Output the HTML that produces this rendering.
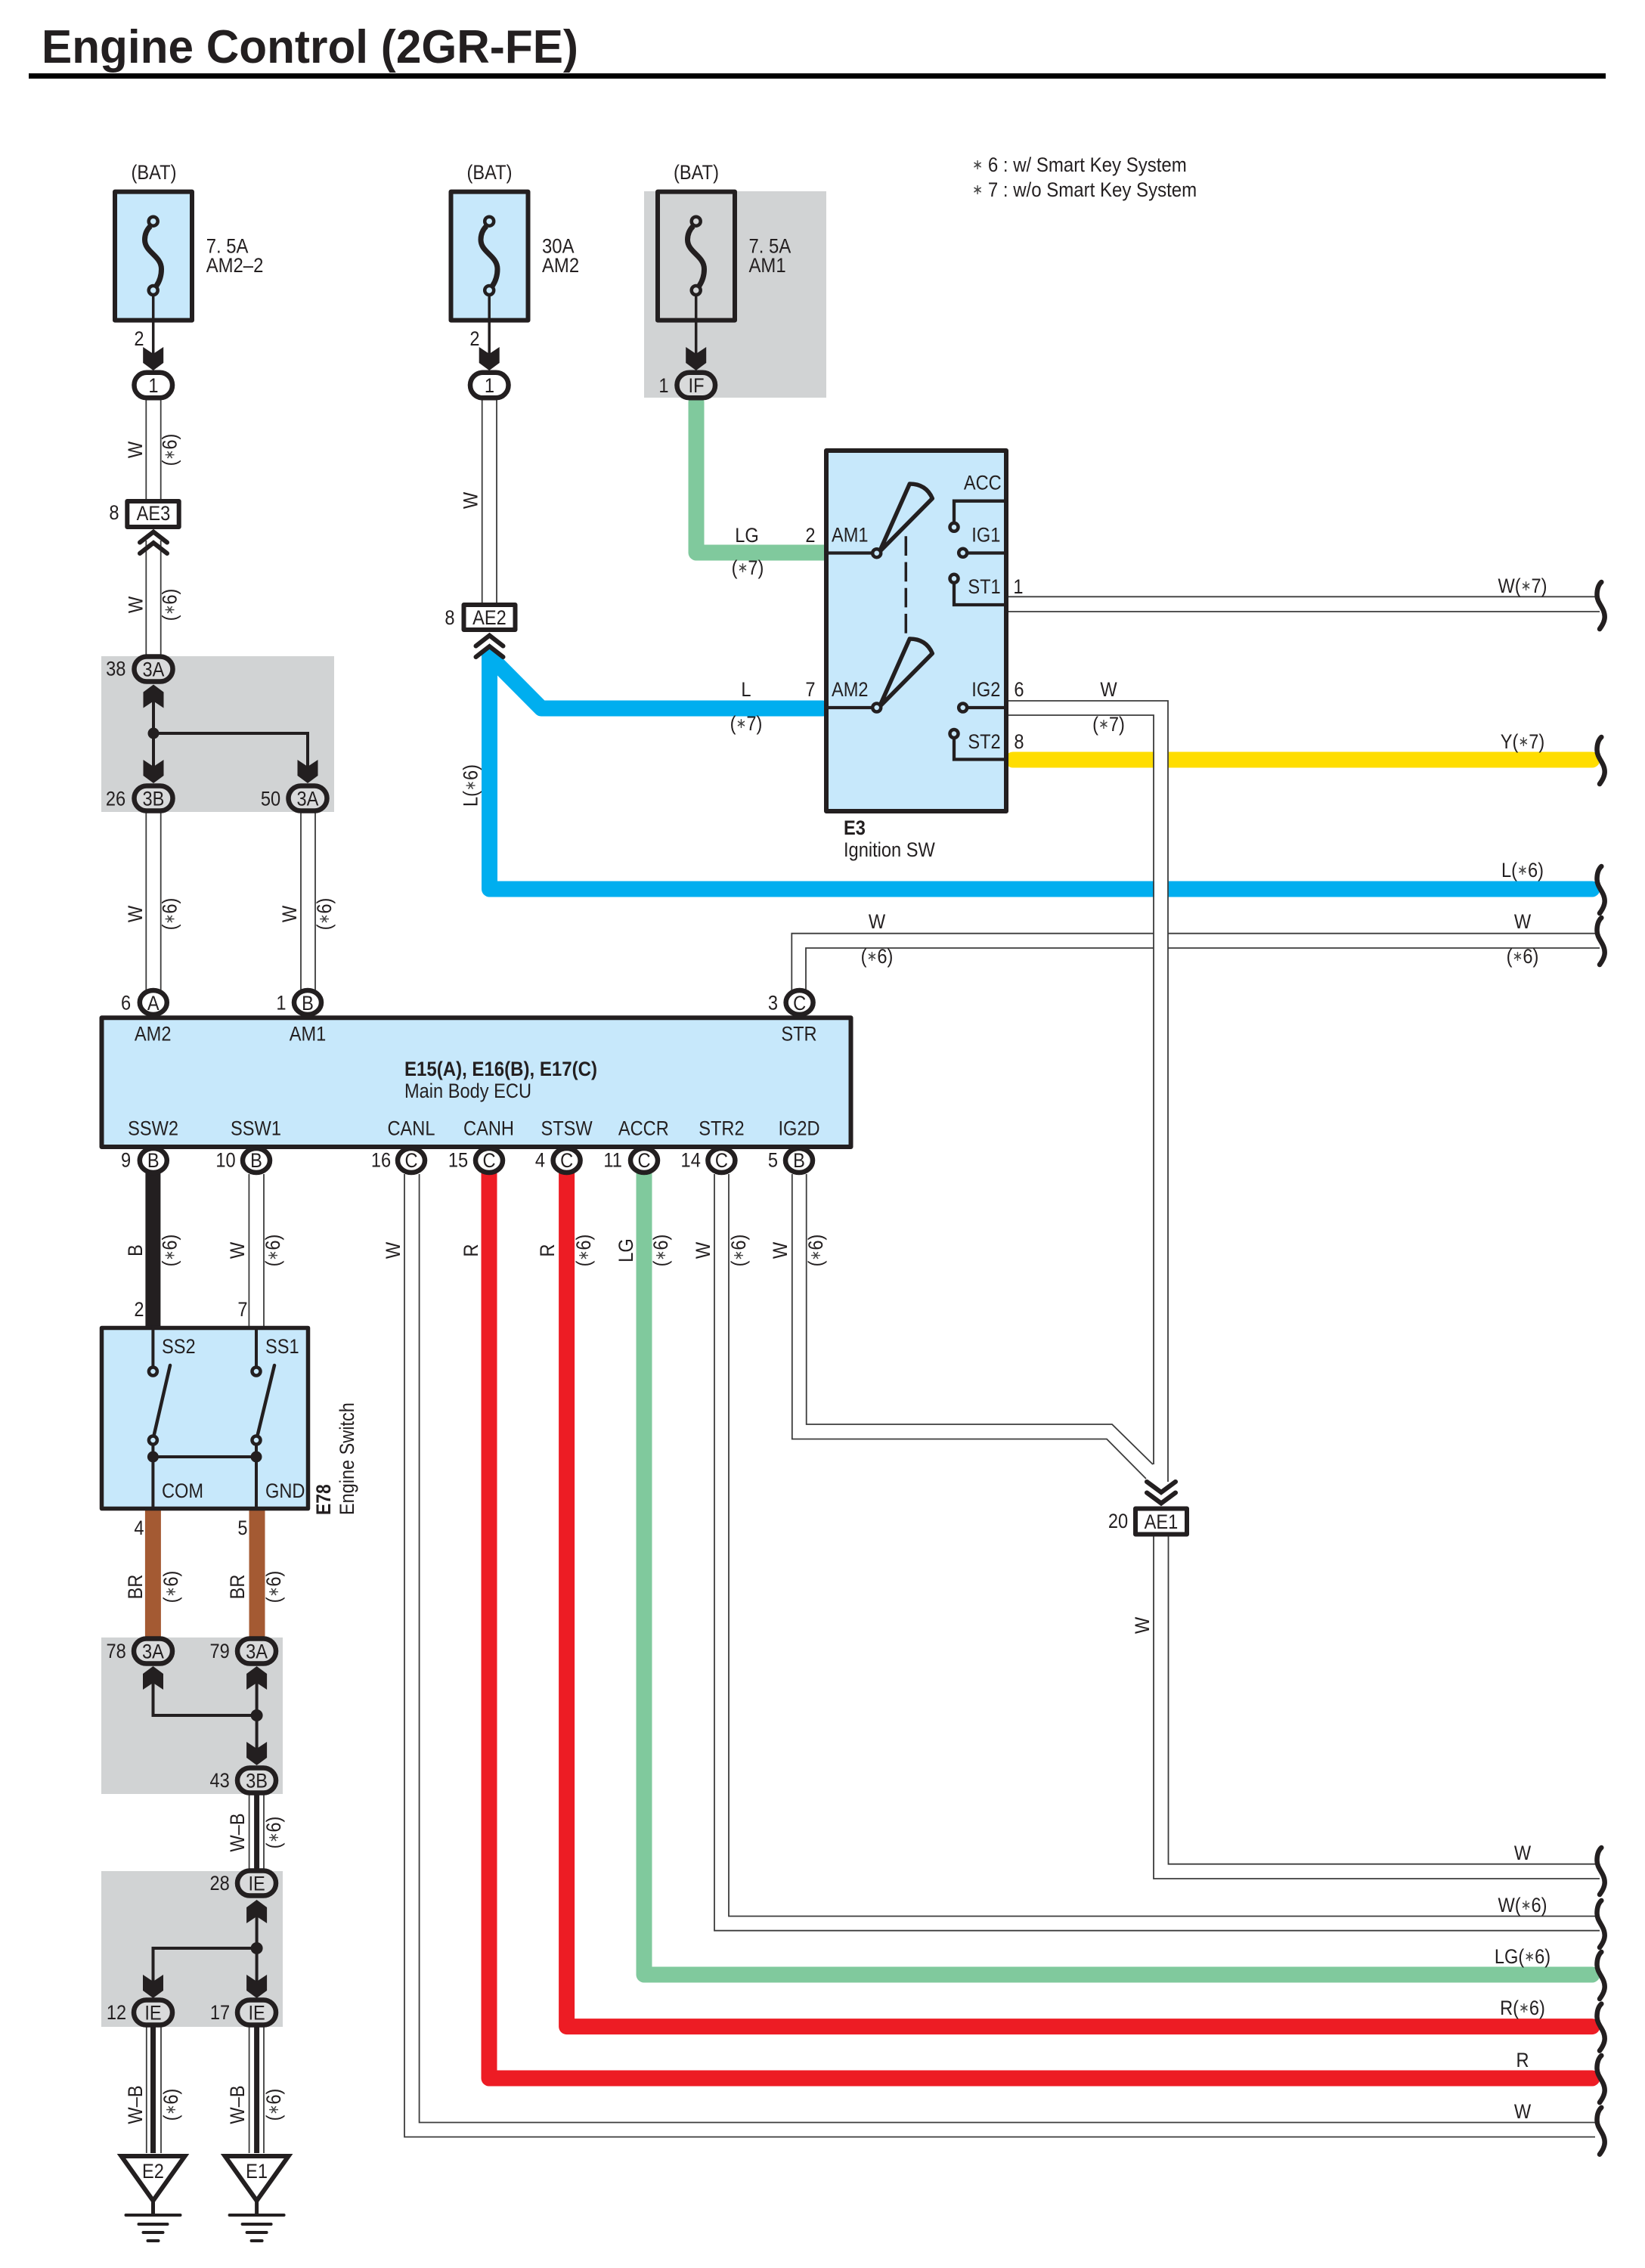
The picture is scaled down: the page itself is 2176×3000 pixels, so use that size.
<!DOCTYPE html>
<html><head><meta charset="utf-8"><title>Engine Control (2GR-FE)</title>
<style>
html,body{margin:0;padding:0;background:#fff}
svg{display:block}
text{font-family:"Liberation Sans",Arial,sans-serif;font-size:27px;fill:#231f20;text-anchor:middle}
.l{text-anchor:start}
.b{font-weight:bold}
.a{font-size:19px;fill:#444;baseline-shift:3px}
.w{fill:none;stroke:#3c3c3c;stroke-width:1.8}
.k{fill:none;stroke:#231f20;stroke-width:4}
.box{fill:#c7e8fb;stroke:#231f20;stroke-width:6;stroke-linejoin:round}
.ov{fill:#fff;stroke:#231f20;stroke-width:6.5}
.og{fill:#d9dadb;stroke:#231f20;stroke-width:6.5}
.rc{fill:#fff;stroke:#231f20;stroke-width:6;stroke-linejoin:round}
.sc{fill:#c7e8fb;stroke:#231f20;stroke-width:4.5}
.fat{fill:none;stroke-width:21;stroke-linejoin:round;stroke-linecap:round}
</style></head><body>
<svg xmlns="http://www.w3.org/2000/svg" width="2176" height="3000" viewBox="0 0 2176 3000">
<defs>
<path id="arr" d="M-13.500 -31L0 -22L13.500 -31V-10L0 0L-13.500 -10Z" fill="#231f20"/>
<g id="chev" fill="none" stroke="#231f20" stroke-width="6" stroke-linecap="round"><path d="M-18 17.500L0 3.500L18 17.500"/><path d="M-18 32L0 18L18 32"/></g>
<path id="brk" d="M1.300 -30C-3 -26 -4.500 -20 -4.500 -13C-4.500 -2 5.700 4 5.700 16C5.700 22 2 28 -1 32" fill="none" stroke="#231f20" stroke-width="6.500" stroke-linecap="round"/>
<path id="fz" d="M199 299C194 304 191.500 310 191.500 317C191.500 334 213.500 338 213.500 356C213.500 365 211 372 207 378" fill="none" stroke="#231f20" stroke-width="7"/>
<g id="gnd" stroke="#231f20" stroke-width="4" fill="none"><path d="M0 61V80" stroke-width="5"/><path d="M-36 80H36M-19 92H19M-13 103H13M-7 114H7" stroke-linecap="round"/><path d="M-42 2H42L0 61Z" stroke-width="6" stroke-linejoin="miter" fill="#fff"/></g>
</defs>
<rect width="2176" height="3000" fill="#fff"/>

<!-- title -->
<text class="l b" x="55" y="83" style="font-size:62px" textLength="710" lengthAdjust="spacingAndGlyphs">Engine Control (2GR-FE)</text>
<rect x="38" y="97" width="2086" height="7" fill="#000"/>

<!-- gray areas -->
<g fill="#d1d3d4">
<rect x="852" y="253" width="241" height="273"/>
<rect x="134" y="868" width="308" height="206"/>
<rect x="134" y="2166" width="240" height="207"/>
<rect x="134" y="2475" width="240" height="206"/>
</g>

<!-- thin white wires -->
<g class="w">
<path d="M193.300 529V661M212.700 529V661M193.300 715V868M212.700 715V868"/>
<path d="M193.300 1075V1312M212.700 1075V1312M398 1075V1312M417 1075V1312"/>
<path d="M637.700 529V800M657 529V800"/>
<path d="M1334 789.300H2110M1334 809H2116"/>
<path d="M1047.300 1312V1234.700H1526M1545 1234.700H2110M1066 1312V1254H1526M1545 1254H2116"/>
<path d="M329.400 1553V1754M349 1553V1754"/>
<path d="M535 1553V2826.600H2110M554.600 1553V2807.500H2110"/>
<path d="M945 1553V2553.700H2116M964 1553V2534.600H2110"/>
<path d="M1047.800 1553V1903.500H1464L1516 1956M1066.700 1553V1884H1471L1525 1937"/>
<path d="M1526 2032V2485H2116M1545.500 2032V2465.700H2110"/>
<path d="M329.600 2373V2475M349 2373V2475"/>
<path d="M193.800 2680V2848M213 2680V2848M329.600 2680V2848M349 2680V2848"/>
</g>

<!-- thick wires -->
<path class="fat" stroke="#80c99d" d="M921 532V731H1090"/>
<path class="fat" stroke="#00aeef" d="M647.500 868L716 937H1088"/>
<path class="fat" stroke="#00aeef" d="M647.500 868V1176H2106"/>
<path class="fat" stroke="#ffdd00" d="M1340 1005H2106"/>
<path class="fat" stroke="#ed1c24" d="M647 1552V2749H2106"/>
<path class="fat" stroke="#ed1c24" d="M749.600 1552V2680.600H2106"/>
<path class="fat" stroke="#80c99d" d="M852 1552V2612H2106"/>
<path d="M202.400 1550V1754" stroke="#231f20" stroke-width="20" fill="none"/>
<path d="M202.400 1998V2166M340 1998V2166" stroke="#a45a33" stroke-width="21" fill="none"/>
<path d="M339.600 2373V2475M202.500 2680V2848M339.600 2680V2848" stroke="#231f20" stroke-width="7" fill="none"/>

<!-- IG2 white wire crossing over the others -->
<rect x="1527" y="927" width="17.500" height="1030" fill="#fff"/>
<path class="w" d="M1334 927H1545V1960M1334 946H1526V1937"/>

<!-- fuses -->
<g>
<rect class="box" x="152" y="253.600" width="102" height="170"/>
<rect class="box" x="596.500" y="253.600" width="102" height="170"/>
<rect class="box" x="870" y="253.600" width="102" height="170" style="fill:#d1d3d4"/>
<use href="#fz"/><use href="#fz" x="444.500"/><use href="#fz" x="718"/>
<path class="k" d="M202.700 388V468M647.200 388V468M920.700 388V468" style="stroke-width:3.500"/>
<circle class="sc" cx="202.700" cy="292.700" r="6"/><circle class="sc" cx="202.700" cy="384" r="6"/>
<circle class="sc" cx="647.200" cy="292.700" r="6"/><circle class="sc" cx="647.200" cy="384" r="6"/>
<circle class="sc" style="fill:#d1d3d4" cx="920.700" cy="292.700" r="6"/><circle class="sc" style="fill:#d1d3d4" cx="920.700" cy="384" r="6"/>
<use href="#arr" x="202.700" y="490"/><use href="#arr" x="647.200" y="490"/><use href="#arr" x="920.700" y="490"/>
<rect class="ov" x="177.500" y="492.800" width="50.500" height="33.500" rx="16.500"/>
<rect class="ov" x="622" y="492.800" width="50.500" height="33.500" rx="16.500"/>
<rect class="og" x="895.500" y="492.800" width="50.500" height="33.500" rx="16.500"/>
</g>

<!-- AE3 / AE2 -->
<rect class="rc" x="168.300" y="663" width="68.400" height="34"/>
<use href="#chev" x="203" y="700"/>
<rect class="rc" x="613.500" y="800" width="68" height="33"/>
<use href="#chev" x="647.500" y="837"/>

<!-- 3A/3B group -->
<path class="k" d="M203 925V1020M203 970H407V1020"/>
<circle cx="203" cy="970" r="7.500" fill="#231f20"/>
<use href="#arr" transform="translate(203 905.500) scale(1 -1)"/>
<use href="#arr" x="203" y="1036"/><use href="#arr" x="407" y="1036"/>
<rect class="og" x="177.500" y="868.500" width="51" height="33" rx="16.500"/>
<rect class="og" x="177.500" y="1039.500" width="51" height="33" rx="16.500"/>
<rect class="og" x="381.500" y="1039.500" width="51" height="33" rx="16.500"/>

<!-- ECU -->
<rect class="box" x="134.500" y="1346.300" width="991" height="170.700"/>
<g class="ov">
<ellipse cx="202.800" cy="1326" rx="18" ry="16"/>
<ellipse cx="407" cy="1326" rx="18" ry="16"/>
<ellipse cx="1057.600" cy="1326" rx="18" ry="16"/>
<ellipse cx="202.800" cy="1535" rx="18" ry="16"/>
<ellipse cx="339" cy="1535" rx="18" ry="16"/>
<ellipse cx="544" cy="1535" rx="18" ry="16"/>
<ellipse cx="647" cy="1535" rx="18" ry="16"/>
<ellipse cx="749.600" cy="1535" rx="18" ry="16"/>
<ellipse cx="852" cy="1535" rx="18" ry="16"/>
<ellipse cx="954.400" cy="1535" rx="18" ry="16"/>
<ellipse cx="1057" cy="1535" rx="18" ry="16"/>
</g>

<!-- E3 ignition -->
<rect x="1093" y="596" width="238" height="477" fill="#c7e8fb" stroke="#231f20" stroke-width="6" stroke-linejoin="round"/>
<path class="k" style="stroke-width:4.300" d="M1090 731.500H1155M1332 731.500H1279M1332 662.700H1262V692M1262 770V800H1332M1090 936H1155M1332 936H1279M1262 975V1004.500H1332"/>
<path d="M1163.300 730L1203.300 640Q1225 640 1233.300 659.300L1163.300 730Z" fill="none" stroke="#231f20" stroke-width="5.500" stroke-linejoin="round"/>
<path d="M1163.300 935L1203.300 845Q1225 845 1233.300 864.300L1163.300 935Z" fill="none" stroke="#231f20" stroke-width="5.500" stroke-linejoin="round"/>
<path d="M1198.300 709.300V838" stroke="#231f20" stroke-width="3.500" stroke-dasharray="25.700 8.500" fill="none"/>
<circle class="sc" cx="1159.700" cy="731.700" r="5.500"/><circle class="sc" cx="1273.700" cy="731.300" r="5.500"/>
<circle class="sc" cx="1262" cy="697.300" r="5.500"/><circle class="sc" cx="1262" cy="765.300" r="5.500"/>
<circle class="sc" cx="1159.700" cy="936" r="5.500"/><circle class="sc" cx="1273.700" cy="936" r="5.500"/>
<circle class="sc" cx="1262" cy="970.500" r="5.500"/>

<!-- AE1 -->
<use href="#chev" transform="translate(1536 1992) scale(1.050 -1)"/>
<rect class="rc" x="1502" y="1995.500" width="68" height="34"/>

<!-- E78 -->
<rect class="box" style="stroke-width:5.500" x="134.500" y="1756.500" width="273" height="239"/>
<path class="k" d="M202.400 1754V1809M339 1754V1809M202.400 1910V1998M339 1910V1998M202.400 1927H339"/>
<path d="M225 1806L204 1897M363 1806L341 1897" stroke="#231f20" stroke-width="4.500" fill="none" stroke-linecap="round"/>
<circle class="sc" cx="202.400" cy="1814" r="5.500"/><circle class="sc" cx="339" cy="1814" r="5.500"/>
<circle class="sc" cx="202.400" cy="1905" r="5.500"/><circle class="sc" cx="339" cy="1905" r="5.500"/>
<circle cx="202.400" cy="1927" r="7.500" fill="#231f20"/><circle cx="339" cy="1927" r="7.500" fill="#231f20"/>

<!-- lower left connectors -->
<path class="k" d="M202.500 2225V2269H339.600M339.600 2225V2315"/>
<circle cx="339.600" cy="2269" r="8" fill="#231f20"/>
<use href="#arr" transform="translate(202.500 2204) scale(1 -1)"/><use href="#arr" transform="translate(339.600 2204) scale(1 -1)"/>
<use href="#arr" x="339.600" y="2335"/>
<rect class="og" x="177" y="2167.500" width="51" height="33" rx="16.500"/>
<rect class="og" x="314" y="2167.500" width="51" height="33" rx="16.500"/>
<rect class="og" x="314" y="2338.500" width="51" height="33" rx="16.500"/>

<path class="k" d="M339.600 2535V2625M339.600 2577H202.500V2625"/>
<circle cx="339.600" cy="2577" r="8" fill="#231f20"/>
<use href="#arr" transform="translate(339.600 2513) scale(1 -1)"/>
<use href="#arr" x="202.500" y="2643"/><use href="#arr" x="339.600" y="2643"/>
<rect class="og" x="314" y="2474.500" width="51" height="33" rx="16.500"/>
<rect class="og" x="177" y="2645.500" width="51" height="33" rx="16.500"/>
<rect class="og" x="314" y="2645.500" width="51" height="33" rx="16.500"/>

<use href="#gnd" x="202.500" y="2850"/><use href="#gnd" x="339.600" y="2850"/>

<!-- wire-end breaks -->
<g>
<use href="#brk" x="2117" y="800"/><use href="#brk" x="2117" y="1005"/><use href="#brk" x="2117" y="1176"/><use href="#brk" x="2117" y="1244"/>
<use href="#brk" x="2117" y="2474"/><use href="#brk" x="2117" y="2544"/><use href="#brk" x="2117" y="2612"/><use href="#brk" x="2117" y="2680.600"/><use href="#brk" x="2117" y="2749"/><use href="#brk" x="2117" y="2817.700"/>
</g>

<!-- horizontal labels -->
<g>
<text transform="translate(203.500 237)scale(.875 1)">(BAT)</text>
<text transform="translate(647.500 237)scale(.875 1)">(BAT)</text>
<text transform="translate(921 237)scale(.875 1)">(BAT)</text>
<text class="l" transform="translate(272.700 334.500)scale(.885 1)">7. 5A</text>
<text class="l" transform="translate(272.700 360)scale(.885 1)">AM2–2</text>
<text class="l" transform="translate(717 334.500)scale(.885 1)">30A</text>
<text class="l" transform="translate(717 360)scale(.885 1)">AM2</text>
<text class="l" transform="translate(990.500 334.500)scale(.885 1)">7. 5A</text>
<text class="l" transform="translate(990.500 360)scale(.885 1)">AM1</text>
<text class="l" transform="translate(1286 227)scale(.89 1)"><tspan class="a">∗</tspan> 6 : w/ Smart Key System</text>
<text class="l" transform="translate(1286 260)scale(.89 1)"><tspan class="a">∗</tspan> 7 : w/o Smart Key System</text>

<text transform="translate(184 457)scale(.875 1)">2</text>
<text transform="translate(628 457)scale(.875 1)">2</text>
<text transform="translate(203 519)scale(.875 1)">1</text>
<text transform="translate(647.500 519)scale(.875 1)">1</text>
<text transform="translate(878 519)scale(.875 1)">1</text>
<text transform="translate(921 519)scale(.875 1)">IF</text>
<text transform="translate(151 687)scale(.875 1)">8</text>
<text transform="translate(203 688)scale(.875 1)">AE3</text>
<text transform="translate(595 826)scale(.875 1)">8</text>
<text transform="translate(647.500 826)scale(.875 1)">AE2</text>
<text transform="translate(153.300 893.500)scale(.875 1)">38</text>
<text transform="translate(203 894.500)scale(.875 1)">3A</text>
<text transform="translate(153 1065.500)scale(.875 1)">26</text>
<text transform="translate(203 1065.500)scale(.875 1)">3B</text>
<text transform="translate(358 1065.500)scale(.875 1)">50</text>
<text transform="translate(407 1065.500)scale(.875 1)">3A</text>

<text transform="translate(988 717)scale(.875 1)">LG</text>
<text transform="translate(989 760)scale(.875 1)">(<tspan class="a">∗</tspan>7)</text>
<text transform="translate(987 921)scale(.875 1)">L</text>
<text transform="translate(987 966)scale(.875 1)">(<tspan class="a">∗</tspan>7)</text>
<text transform="translate(1072 717)scale(.875 1)">2</text>
<text transform="translate(1072 921)scale(.875 1)">7</text>
<text class="l" transform="translate(1100 716.700)scale(.875 1)">AM1</text>
<text class="l" transform="translate(1100 921)scale(.875 1)">AM2</text>
<text transform="translate(1299.800 647.700)scale(.875 1)">ACC</text>
<text transform="translate(1304.300 716.700)scale(.875 1)">IG1</text>
<text transform="translate(1302 785)scale(.875 1)">ST1</text>
<text transform="translate(1304.300 921)scale(.875 1)">IG2</text>
<text transform="translate(1302 990)scale(.875 1)">ST2</text>
<text transform="translate(1347 785)scale(.875 1)">1</text>
<text transform="translate(1348 921)scale(.875 1)">6</text>
<text transform="translate(1348 990)scale(.875 1)">8</text>
<text transform="translate(1466.500 921)scale(.875 1)">W</text>
<text transform="translate(1466.500 967)scale(.875 1)">(<tspan class="a">∗</tspan>7)</text>
<text class="l b" transform="translate(1116 1104)scale(.875 1)">E3</text>
<text class="l" transform="translate(1116 1133)scale(.875 1)">Ignition SW</text>
<text transform="translate(2014 784)scale(.875 1)">W(<tspan class="a">∗</tspan>7)</text>
<text transform="translate(2014 990)scale(.875 1)">Y(<tspan class="a">∗</tspan>7)</text>
<text transform="translate(2014 1160)scale(.875 1)">L(<tspan class="a">∗</tspan>6)</text>
<text transform="translate(1160 1228)scale(.875 1)">W</text>
<text transform="translate(1160 1274)scale(.875 1)">(<tspan class="a">∗</tspan>6)</text>
<text transform="translate(2014 1228)scale(.875 1)">W</text>
<text transform="translate(2014 1274)scale(.875 1)">(<tspan class="a">∗</tspan>6)</text>

<text transform="translate(166.600 1335.500)scale(.875 1)">6</text>
<text transform="translate(202.800 1336)scale(.875 1)">A</text>
<text transform="translate(372 1335.500)scale(.875 1)">1</text>
<text transform="translate(407 1336)scale(.875 1)">B</text>
<text transform="translate(1022.500 1335.500)scale(.875 1)">3</text>
<text transform="translate(1057.600 1336)scale(.875 1)">C</text>
<text transform="translate(202.200 1376.700)scale(.875 1)">AM2</text>
<text transform="translate(407 1376.700)scale(.875 1)">AM1</text>
<text transform="translate(1057 1376.700)scale(.875 1)">STR</text>
<text class="l b" transform="translate(535 1423)scale(.89 1)">E15(A), E16(B), E17(C)</text>
<text class="l" transform="translate(535 1452)scale(.875 1)">Main Body ECU</text>
<text transform="translate(202.600 1501.700)scale(.875 1)">SSW2</text>
<text transform="translate(338.500 1501.700)scale(.875 1)">SSW1</text>
<text transform="translate(544 1501.700)scale(.875 1)">CANL</text>
<text transform="translate(646.500 1501.700)scale(.875 1)">CANH</text>
<text transform="translate(749.600 1501.700)scale(.875 1)">STSW</text>
<text transform="translate(851.300 1501.700)scale(.875 1)">ACCR</text>
<text transform="translate(954.400 1501.700)scale(.875 1)">STR2</text>
<text transform="translate(1057 1501.700)scale(.875 1)">IG2D</text>
<text transform="translate(166.600 1543.500)scale(.875 1)">9</text>
<text transform="translate(202.800 1544)scale(.875 1)">B</text>
<text transform="translate(298.500 1543.500)scale(.875 1)">10</text>
<text transform="translate(339 1544)scale(.875 1)">B</text>
<text transform="translate(504 1543.500)scale(.875 1)">16</text>
<text transform="translate(544 1544)scale(.875 1)">C</text>
<text transform="translate(606 1543.500)scale(.875 1)">15</text>
<text transform="translate(647 1544)scale(.875 1)">C</text>
<text transform="translate(714.500 1543.500)scale(.875 1)">4</text>
<text transform="translate(749.600 1544)scale(.875 1)">C</text>
<text transform="translate(810.600 1543.500)scale(.875 1)">11</text>
<text transform="translate(852 1544)scale(.875 1)">C</text>
<text transform="translate(913.700 1543.500)scale(.875 1)">14</text>
<text transform="translate(954.400 1544)scale(.875 1)">C</text>
<text transform="translate(1022.500 1543.500)scale(.875 1)">5</text>
<text transform="translate(1057 1544)scale(.875 1)">B</text>

<text transform="translate(184 1741)scale(.875 1)">2</text>
<text transform="translate(321 1741)scale(.875 1)">7</text>
<text class="l" transform="translate(214 1790)scale(.875 1)">SS2</text>
<text class="l" transform="translate(351 1790)scale(.875 1)">SS1</text>
<text class="l" transform="translate(214 1981)scale(.875 1)">COM</text>
<text class="l" transform="translate(351 1981)scale(.875 1)">GND</text>
<text transform="translate(184 2030)scale(.875 1)">4</text>
<text transform="translate(321 2030)scale(.875 1)">5</text>

<text transform="translate(153.600 2193)scale(.875 1)">78</text>
<text transform="translate(202.500 2193.500)scale(.875 1)">3A</text>
<text transform="translate(290.600 2193)scale(.875 1)">79</text>
<text transform="translate(339.600 2193.500)scale(.875 1)">3A</text>
<text transform="translate(290.600 2364)scale(.875 1)">43</text>
<text transform="translate(339.600 2364.500)scale(.875 1)">3B</text>
<text transform="translate(290.600 2500)scale(.875 1)">28</text>
<text transform="translate(339.600 2500.500)scale(.875 1)">IE</text>
<text transform="translate(154 2671)scale(.875 1)">12</text>
<text transform="translate(202.500 2671.500)scale(.875 1)">IE</text>
<text transform="translate(291 2671)scale(.875 1)">17</text>
<text transform="translate(339.600 2671.500)scale(.875 1)">IE</text>
<text transform="translate(202.500 2881)scale(.875 1)">E2</text>
<text transform="translate(339.600 2881)scale(.875 1)">E1</text>

<text transform="translate(1479 2021)scale(.875 1)">20</text>
<text transform="translate(1536 2022)scale(.875 1)">AE1</text>
<text transform="translate(2014 2460)scale(.875 1)">W</text>
<text transform="translate(2014 2529)scale(.875 1)">W(<tspan class="a">∗</tspan>6)</text>
<text transform="translate(2014 2597)scale(.875 1)">LG(<tspan class="a">∗</tspan>6)</text>
<text transform="translate(2014 2665)scale(.875 1)">R(<tspan class="a">∗</tspan>6)</text>
<text transform="translate(2014 2734)scale(.875 1)">R</text>
<text transform="translate(2014 2802)scale(.875 1)">W</text>
</g>

<!-- rotated labels -->
<g>
<text transform="translate(188 595)rotate(-90)scale(.875 1)">W</text>
<text transform="translate(233.500 595)rotate(-90)scale(.875 1)">(<tspan class="a">∗</tspan>6)</text>
<text transform="translate(188.300 800)rotate(-90)scale(.875 1)">W</text>
<text transform="translate(233.500 800)rotate(-90)scale(.875 1)">(<tspan class="a">∗</tspan>6)</text>
<text transform="translate(188 1209)rotate(-90)scale(.875 1)">W</text>
<text transform="translate(233.500 1209)rotate(-90)scale(.875 1)">(<tspan class="a">∗</tspan>6)</text>
<text transform="translate(392 1209)rotate(-90)scale(.875 1)">W</text>
<text transform="translate(438 1209)rotate(-90)scale(.875 1)">(<tspan class="a">∗</tspan>6)</text>
<text transform="translate(631.500 662)rotate(-90)scale(.875 1)">W</text>
<text transform="translate(631.500 1039)rotate(-90)scale(.875 1)">L(<tspan class="a">∗</tspan>6)</text>

<text transform="translate(188 1654)rotate(-90)scale(.875 1)">B</text>
<text transform="translate(233.500 1654)rotate(-90)scale(.875 1)">(<tspan class="a">∗</tspan>6)</text>
<text transform="translate(323 1654)rotate(-90)scale(.875 1)">W</text>
<text transform="translate(370 1654)rotate(-90)scale(.875 1)">(<tspan class="a">∗</tspan>6)</text>
<text transform="translate(529 1654)rotate(-90)scale(.875 1)">W</text>
<text transform="translate(632 1654)rotate(-90)scale(.875 1)">R</text>
<text transform="translate(733 1654)rotate(-90)scale(.875 1)">R</text>
<text transform="translate(781 1654)rotate(-90)scale(.875 1)">(<tspan class="a">∗</tspan>6)</text>
<text transform="translate(837 1654)rotate(-90)scale(.875 1)">LG</text>
<text transform="translate(883 1654)rotate(-90)scale(.875 1)">(<tspan class="a">∗</tspan>6)</text>
<text transform="translate(939 1654)rotate(-90)scale(.875 1)">W</text>
<text transform="translate(986 1654)rotate(-90)scale(.875 1)">(<tspan class="a">∗</tspan>6)</text>
<text transform="translate(1041 1654)rotate(-90)scale(.875 1)">W</text>
<text transform="translate(1088 1654)rotate(-90)scale(.875 1)">(<tspan class="a">∗</tspan>6)</text>

<text class="l b" transform="translate(437 2004)rotate(-90)scale(.85 1)">E78</text>
<text class="l" transform="translate(468 2004)rotate(-90)scale(.87 1)">Engine Switch</text>

<text transform="translate(188 2099)rotate(-90)scale(.875 1)">BR</text>
<text transform="translate(235 2099)rotate(-90)scale(.875 1)">(<tspan class="a">∗</tspan>6)</text>
<text transform="translate(323 2099)rotate(-90)scale(.875 1)">BR</text>
<text transform="translate(371 2099)rotate(-90)scale(.875 1)">(<tspan class="a">∗</tspan>6)</text>
<text transform="translate(323 2424)rotate(-90)scale(.875 1)">W–B</text>
<text transform="translate(371 2424)rotate(-90)scale(.875 1)">(<tspan class="a">∗</tspan>6)</text>
<text transform="translate(188 2784)rotate(-90)scale(.875 1)">W–B</text>
<text transform="translate(235 2784)rotate(-90)scale(.875 1)">(<tspan class="a">∗</tspan>6)</text>
<text transform="translate(323 2784)rotate(-90)scale(.875 1)">W–B</text>
<text transform="translate(371 2784)rotate(-90)scale(.875 1)">(<tspan class="a">∗</tspan>6)</text>
<text transform="translate(1520 2150)rotate(-90)scale(.875 1)">W</text>
</g>
</svg>
</body></html>
